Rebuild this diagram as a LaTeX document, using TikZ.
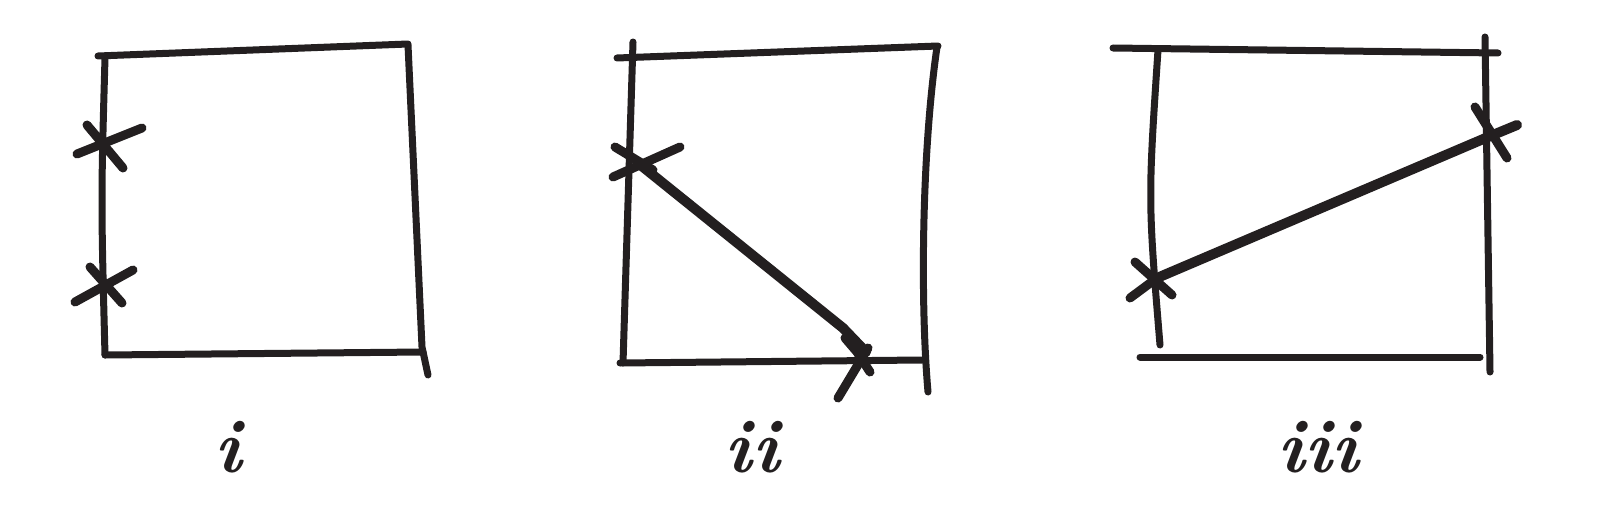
\documentclass[tikz,border=0pt]{standalone}
\definecolor{ink}{RGB}{35,31,32}
\tikzset{
  pen/.style={draw=ink,line width=7pt,line cap=round,line join=round},
  xstroke/.style={draw=ink,line width=9pt,line cap=round,line join=round},
  heavypen/.style={draw=ink,line width=10pt,line cap=round,line join=round},
  lab/.style={text=ink,anchor=base,font=\fontsize{76}{76}\selectfont\bfseries\itshape}
}
\begin{document}
\begin{tikzpicture}[x=1pt,y=-1pt]
\useasboundingbox (0,0) rectangle (1603,508);
% ---------- panel i ----------
\draw[pen] (98,56) -- (408,44);
\draw[pen] (105,58) .. controls (101,200) .. (105,355);
\draw[pen] (105,355) -- (423,352);
\draw[pen] (408,45) -- (422,347) -- (428,375);
\coordinate (a1) at (107,143);
\coordinate (a2) at (107,280);
\draw[xstroke] (77,154) -- (142,128);
\draw[xstroke] (87,125) -- (123,168);
\draw[xstroke] (75,302) -- (133,270);
\draw[xstroke] (90,267) -- (122,303);
\node[lab] (li) at (228,472) {i};
% ---------- panel ii ----------
\draw[pen] (617,58) -- (938,46);
\draw[pen] (633,42) -- (623,363);
\draw[pen] (620,363) -- (922,360);
\draw[pen] (937,47) .. controls (922,150) and (920,300) .. (928,392);
\coordinate (b1) at (638,163);
\coordinate (b2) at (843,328);
\coordinate (b3) at (866,352);
\draw[xstroke] (613,177) -- (680,147);
\draw[xstroke] (615,147) -- (653,170);
\draw[heavypen] (b1) -- (b2) -- (b3);
\draw[xstroke] (838,398) -- (868,348);
\draw[xstroke] (845,338) -- (857,352) -- (870,372);
\node[lab] (lii) at (752,472) {ii};
% ---------- panel iii ----------
\draw[pen] (1113,48) -- (1498,53);
\draw[pen] (1158,50) .. controls (1148,200) .. (1160,345);
\draw[pen] (1140,357) -- (1480,357);
\draw[pen] (1485,37) -- (1490,372);
\coordinate (c1) at (1157,278);
\coordinate (c2) at (1488,137);
\coordinate (c3) at (1517,125);
\draw[xstroke] (1130,298) -- (c1);
\draw[xstroke] (1135,262) -- (1172,295);
\draw[heavypen] (c1) -- (c2) -- (c3);
\draw[xstroke] (1475,107) -- (1507,158);
\node[lab] (liii) at (1318,472) {iii};
\end{tikzpicture}
\end{document}
